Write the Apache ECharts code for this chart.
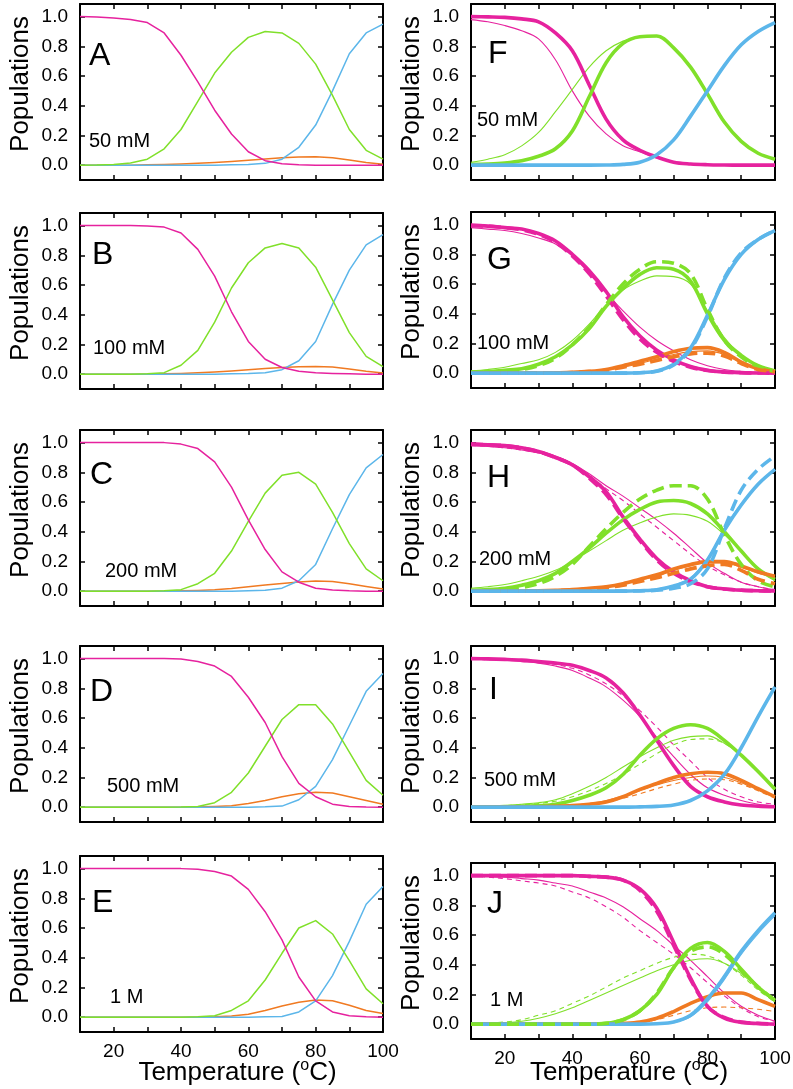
<!DOCTYPE html>
<html><head><meta charset="utf-8">
<script src="https://cdn.jsdelivr.net/npm/echarts@6/dist/echarts.min.js"></script>
<style>html,body{margin:0;padding:0;background:#fff}#c{width:793px;height:1089px}</style>
</head><body><div id="c"></div>
<script>
// ---------- data ----------
const T = [10,15,20,25,30,35,40,45,50,55,60,65,70,75,80,85,90,95,100];
const X_TICK_LABELS = [20,40,60,80,100];
const Y_TICK_LABELS = [0,0.2,0.4,0.6,0.8,1.0];

const A_mag = [1.0,0.998,0.99,0.98,0.96,0.89,0.74,0.56,0.37,0.21,0.09,0.03,0.01,0.003,0,0,0,0,0];
const A_grn = [0,0.001,0.005,0.015,0.04,0.11,0.24,0.43,0.62,0.76,0.86,0.90,0.89,0.82,0.68,0.47,0.24,0.10,0.04];
const A_org = [0,0,0,0,0.002,0.004,0.007,0.012,0.018,0.025,0.033,0.042,0.05,0.055,0.056,0.05,0.035,0.018,0.006];
const A_blu = [0,0,0,0,0,0,0,0,0,0.002,0.005,0.012,0.04,0.12,0.27,0.50,0.75,0.89,0.95];

const B_mag = [1,1,1,1,0.998,0.99,0.95,0.84,0.66,0.42,0.22,0.10,0.045,0.02,0.01,0.005,0.002,0,0];
const B_grn = [0,0,0,0,0.002,0.01,0.06,0.16,0.35,0.58,0.75,0.85,0.88,0.85,0.72,0.50,0.28,0.12,0.05];
const B_org = [0,0,0,0,0,0.002,0.005,0.009,0.015,0.022,0.03,0.038,0.045,0.05,0.052,0.048,0.035,0.02,0.008];
const B_blu = [0,0,0,0,0,0,0,0,0,0.002,0.004,0.01,0.03,0.09,0.22,0.47,0.70,0.87,0.94];

const C_mag = [1,1,1,1,1,1,0.99,0.96,0.87,0.70,0.48,0.28,0.13,0.06,0.02,0.007,0.002,0,0];
const C_grn = [0,0,0,0,0,0.002,0.01,0.05,0.12,0.27,0.47,0.66,0.78,0.80,0.72,0.53,0.32,0.15,0.07];
const C_org = [0,0,0,0,0,0,0.002,0.005,0.01,0.018,0.03,0.042,0.052,0.062,0.068,0.065,0.05,0.032,0.015];
const C_blu = [0,0,0,0,0,0,0,0,0,0,0.002,0.006,0.02,0.07,0.18,0.42,0.65,0.83,0.92];

const D_mag = [1,1,1,1,1,1,0.998,0.98,0.95,0.88,0.74,0.57,0.34,0.16,0.07,0.02,0.005,0.001,0];
const D_grn = [0,0,0,0,0,0,0.001,0.005,0.03,0.10,0.23,0.41,0.59,0.69,0.69,0.56,0.37,0.18,0.08];
const D_org = [0,0,0,0,0,0,0,0.002,0.005,0.01,0.025,0.045,0.07,0.09,0.10,0.095,0.07,0.045,0.02];
const D_blu = [0,0,0,0,0,0,0,0,0,0,0,0.002,0.007,0.05,0.14,0.32,0.55,0.78,0.90];

const E_mag = [1,1,1,1,1,1,1,0.995,0.98,0.95,0.86,0.71,0.52,0.27,0.11,0.035,0.01,0.002,0];
const E_grn = [0,0,0,0,0,0,0,0.002,0.01,0.045,0.11,0.25,0.43,0.60,0.65,0.56,0.38,0.19,0.09];
const E_org = [0,0,0,0,0,0,0,0,0.002,0.008,0.02,0.045,0.075,0.10,0.115,0.11,0.08,0.045,0.025];
const E_blu = [0,0,0,0,0,0,0,0,0,0,0,0.002,0.005,0.035,0.11,0.28,0.51,0.76,0.88];

const F_mag = [1.0,0.998,0.995,0.985,0.965,0.89,0.77,0.54,0.31,0.17,0.10,0.055,0.02,0.008,0.003,0.001,0,0,0];
const F_magThin = [0.98,0.965,0.94,0.905,0.85,0.71,0.50,0.33,0.21,0.13,0.09,0.05,0.02,0.008,0.003,0.001,0,0,0];
const F_grn = [0.005,0.008,0.015,0.03,0.06,0.11,0.23,0.46,0.69,0.82,0.865,0.87,0.79,0.66,0.48,0.29,0.16,0.08,0.04];
const F_grnThin = [0.02,0.04,0.07,0.13,0.22,0.36,0.51,0.66,0.77,0.835,0.865,0.87,0.79,0.66,0.48,0.29,0.16,0.08,0.04];
const F_blu = [0,0,0,0,0,0,0,0,0.001,0.005,0.02,0.07,0.17,0.33,0.50,0.67,0.81,0.90,0.96];

const G_mag = [0.995,0.99,0.98,0.97,0.94,0.89,0.80,0.69,0.55,0.38,0.25,0.155,0.09,0.045,0.02,0.008,0.003,0.001,0];
const G_magDash = [0.995,0.99,0.98,0.965,0.935,0.88,0.79,0.67,0.52,0.36,0.23,0.14,0.08,0.04,0.018,0.007,0.003,0.001,0];
const G_magThin = [0.98,0.97,0.96,0.94,0.91,0.87,0.79,0.67,0.54,0.42,0.31,0.22,0.15,0.09,0.05,0.025,0.012,0.005,0.002];
const G_grn = [0.005,0.01,0.02,0.03,0.06,0.11,0.19,0.30,0.45,0.57,0.665,0.71,0.70,0.62,0.40,0.22,0.12,0.05,0.015];
const G_grnDash = [0.004,0.008,0.015,0.025,0.05,0.1,0.19,0.31,0.46,0.60,0.70,0.75,0.74,0.67,0.43,0.22,0.11,0.045,0.012];
const G_grnThin = [0.015,0.025,0.04,0.065,0.09,0.14,0.22,0.33,0.46,0.56,0.62,0.655,0.65,0.60,0.42,0.24,0.12,0.05,0.015];
const G_org = [0,0,0,0,0,0.002,0.005,0.012,0.025,0.05,0.08,0.11,0.145,0.168,0.172,0.14,0.075,0.03,0.01];
const G_orgDash = [0,0,0,0,0,0.001,0.004,0.01,0.02,0.04,0.06,0.085,0.11,0.13,0.135,0.115,0.065,0.025,0.01];
const G_orgThin = [0,0,0,0,0,0.002,0.005,0.01,0.02,0.04,0.065,0.095,0.125,0.145,0.15,0.125,0.07,0.03,0.01];
const G_blu = [0,0,0,0,0,0,0,0,0,0,0.003,0.015,0.06,0.17,0.39,0.63,0.80,0.90,0.96];
const G_bluDash = [0,0,0,0,0,0,0,0,0,0,0.003,0.013,0.055,0.16,0.38,0.64,0.81,0.90,0.96];

const H_mag = [0.99,0.985,0.98,0.965,0.94,0.90,0.85,0.77,0.67,0.50,0.35,0.22,0.13,0.07,0.03,0.015,0.007,0.003,0.001];
const H_magDash = [0.99,0.985,0.98,0.965,0.94,0.90,0.85,0.76,0.65,0.49,0.34,0.21,0.12,0.065,0.03,0.014,0.006,0.003,0.001];
const H_magThin = [0.98,0.975,0.965,0.95,0.93,0.91,0.86,0.79,0.71,0.64,0.56,0.48,0.39,0.29,0.19,0.12,0.06,0.03,0.01];
const H_magThinDash = [0.98,0.975,0.965,0.95,0.93,0.905,0.855,0.78,0.69,0.61,0.52,0.43,0.34,0.25,0.17,0.11,0.06,0.03,0.01];
const H_grn = [0.005,0.01,0.02,0.04,0.07,0.12,0.2,0.29,0.39,0.48,0.55,0.6,0.61,0.59,0.52,0.40,0.27,0.15,0.08];
const H_grnDash = [0.003,0.006,0.01,0.025,0.05,0.1,0.18,0.3,0.42,0.53,0.62,0.68,0.71,0.71,0.62,0.38,0.18,0.07,0.03];
const H_grnThin = [0.02,0.03,0.045,0.07,0.1,0.14,0.2,0.27,0.34,0.41,0.46,0.5,0.52,0.51,0.47,0.38,0.27,0.15,0.07];
const H_org = [0,0,0,0,0.002,0.005,0.01,0.02,0.03,0.05,0.08,0.11,0.15,0.18,0.2,0.2,0.17,0.13,0.10];
const H_orgDash = [0,0,0,0,0.001,0.003,0.007,0.014,0.025,0.04,0.065,0.09,0.12,0.15,0.17,0.18,0.14,0.08,0.05];
const H_orgThin = [0,0,0,0,0.002,0.005,0.01,0.018,0.03,0.05,0.075,0.1,0.14,0.17,0.19,0.19,0.16,0.12,0.09];
const H_blu = [0,0,0,0,0,0,0,0,0,0,0.003,0.01,0.035,0.08,0.21,0.41,0.58,0.72,0.82];
const H_bluDash = [0,0,0,0,0,0,0,0,0,0,0.002,0.006,0.02,0.05,0.15,0.42,0.68,0.82,0.91];
const H_bluThin = [0,0,0,0,0,0,0,0,0,0.001,0.005,0.015,0.04,0.09,0.22,0.42,0.59,0.72,0.82];

const I_mag = [1.0,0.998,0.995,0.99,0.98,0.97,0.955,0.92,0.87,0.77,0.62,0.45,0.28,0.14,0.07,0.035,0.015,0.007,0.003];
const I_magThin = [0.995,0.993,0.99,0.98,0.97,0.95,0.92,0.87,0.81,0.72,0.61,0.47,0.34,0.22,0.13,0.08,0.045,0.02,0.01];
const I_magThinDash = [0.995,0.993,0.99,0.985,0.975,0.96,0.935,0.89,0.83,0.75,0.65,0.54,0.42,0.31,0.2,0.12,0.07,0.035,0.02];
const I_grn = [0,0.001,0.002,0.005,0.01,0.02,0.045,0.08,0.13,0.22,0.35,0.46,0.53,0.555,0.53,0.45,0.35,0.24,0.12];
const I_grnThin = [0.005,0.008,0.012,0.02,0.03,0.05,0.09,0.14,0.2,0.27,0.34,0.40,0.45,0.475,0.48,0.43,0.35,0.24,0.12];
const I_grnThinDash = [0.004,0.006,0.01,0.016,0.025,0.04,0.07,0.11,0.16,0.22,0.29,0.36,0.42,0.455,0.46,0.43,0.35,0.24,0.12];
const I_org = [0,0,0,0,0.002,0.005,0.01,0.02,0.035,0.07,0.12,0.16,0.2,0.225,0.235,0.225,0.18,0.125,0.07];
const I_orgThin = [0,0,0,0.002,0.004,0.008,0.015,0.025,0.045,0.075,0.11,0.15,0.18,0.2,0.21,0.2,0.165,0.115,0.065];
const I_orgThinDash = [0,0,0,0.001,0.003,0.006,0.012,0.02,0.035,0.06,0.09,0.125,0.155,0.18,0.19,0.185,0.155,0.11,0.06];
const I_blu = [0,0,0,0,0,0,0,0,0,0,0.002,0.005,0.015,0.045,0.11,0.22,0.40,0.61,0.81];

const J_mag = [1,1,1,1,1,1,1,0.995,0.99,0.97,0.91,0.78,0.55,0.31,0.12,0.04,0.012,0.004,0];
const J_magDash = [1,1,1,1,1,1,1,0.995,0.99,0.97,0.90,0.76,0.53,0.30,0.12,0.045,0.015,0.005,0];
const J_magThin = [1.0,0.995,0.99,0.98,0.97,0.95,0.93,0.89,0.85,0.79,0.71,0.63,0.53,0.43,0.32,0.21,0.12,0.06,0.02];
const J_magThinDash = [1.0,0.99,0.98,0.965,0.95,0.93,0.89,0.85,0.79,0.72,0.63,0.55,0.47,0.38,0.28,0.19,0.11,0.05,0.02];
const J_grn = [0,0,0,0,0,0,0,0,0.005,0.03,0.09,0.2,0.38,0.51,0.55,0.49,0.37,0.25,0.16];
const J_grnDash = [0,0,0,0,0,0,0,0,0.005,0.03,0.09,0.21,0.38,0.49,0.52,0.47,0.36,0.25,0.16];
const J_grnThin = [0.002,0.005,0.01,0.02,0.04,0.07,0.11,0.16,0.21,0.26,0.31,0.36,0.40,0.43,0.44,0.41,0.34,0.24,0.15];
const J_grnThinDash = [0.003,0.008,0.015,0.03,0.06,0.09,0.14,0.19,0.25,0.31,0.36,0.41,0.45,0.47,0.46,0.41,0.33,0.23,0.15];
const J_org = [0,0,0,0,0,0,0,0,0,0.005,0.015,0.04,0.085,0.14,0.185,0.21,0.21,0.165,0.12];
const J_orgThinDash = [0,0,0,0,0,0,0,0,0,0.003,0.01,0.03,0.06,0.09,0.11,0.115,0.11,0.1,0.085];
const J_blu = [0,0,0,0,0,0,0,0,0,0,0,0.003,0.015,0.06,0.17,0.32,0.49,0.63,0.75];
const J_bluThin = [0,0,0,0,0,0,0,0,0,0,0,0.002,0.012,0.05,0.15,0.30,0.47,0.61,0.73];

const PANEL_LETTERS = ['A','B','C','D','E','F','G','H','I','J'];
const PANEL_CONC = ['50 mM','100 mM','200 mM','500 mM','1 M','50 mM','100 mM','200 mM','500 mM','1 M'];

// ---------- styling / layout ----------
const FONT = '"Liberation Sans", Arial, sans-serif';
const COLORS = {mag:'#e6229e', grn:'#80e02a', blu:'#5cb6ea', org:'#f07a22'};
const STYLES = {
  L:  {width:1.5, type:'solid', smooth:false},
  K:  {width:3.6, type:'solid', smooth:true},
  KD: {width:3.6, type:[12,6], smooth:true},
  N:  {width:1.1, type:'solid', smooth:true},
  ND: {width:1.1, type:[5,4], smooth:true}
};
const COLX = [{left:80, width:303}, {left:471, width:304}];
const ROWTOP = [[4,213,430,646,856],[4,212,430,646,863]];
const GH = 176;
const LETTER_POS = [[89,56],[92,255],[90,475],[90,692],[92,903],[488,54],[487,260],[487,478],[489,690],[487,904]];
const CONC_POS = [[89,141],[93,348],[105,571],[107,786],[110,997],[477,120],[477,343],[479,559],[484,780],[490,1000]];

const panelLines = [
  [[A_org,'org','L'],[A_blu,'blu','L'],[A_grn,'grn','L'],[A_mag,'mag','L']],
  [[B_org,'org','L'],[B_blu,'blu','L'],[B_grn,'grn','L'],[B_mag,'mag','L']],
  [[C_org,'org','L'],[C_blu,'blu','L'],[C_grn,'grn','L'],[C_mag,'mag','L']],
  [[D_org,'org','L'],[D_blu,'blu','L'],[D_grn,'grn','L'],[D_mag,'mag','L']],
  [[E_org,'org','L'],[E_blu,'blu','L'],[E_grn,'grn','L'],[E_mag,'mag','L']],
  [[F_magThin,'mag','N'],[F_grnThin,'grn','N'],[F_mag,'mag','K'],[F_grn,'grn','K'],[F_blu,'blu','K']],
  [[G_magThin,'mag','N'],[G_grnThin,'grn','N'],[G_orgThin,'org','N'],
   [G_mag,'mag','K'],[G_grn,'grn','K'],[G_org,'org','K'],[G_blu,'blu','K'],
   [G_magDash,'mag','KD'],[G_grnDash,'grn','KD'],[G_orgDash,'org','KD'],[G_bluDash,'blu','KD']],
  [[H_magThin,'mag','N'],[H_magThinDash,'mag','ND'],[H_grnThin,'grn','N'],[H_orgThin,'org','N'],[H_bluThin,'blu','N'],
   [H_mag,'mag','K'],[H_grn,'grn','K'],[H_org,'org','K'],[H_blu,'blu','K'],
   [H_magDash,'mag','KD'],[H_grnDash,'grn','KD'],[H_orgDash,'org','KD'],[H_bluDash,'blu','KD']],
  [[I_magThin,'mag','N'],[I_magThinDash,'mag','ND'],[I_grnThin,'grn','N'],[I_grnThinDash,'grn','ND'],
   [I_orgThin,'org','N'],[I_orgThinDash,'org','ND'],
   [I_mag,'mag','K'],[I_grn,'grn','K'],[I_org,'org','K'],[I_blu,'blu','K']],
  [[J_magThin,'mag','N'],[J_magThinDash,'mag','ND'],[J_grnThin,'grn','N'],[J_grnThinDash,'grn','ND'],
   [J_orgThinDash,'org','ND'],[J_bluThin,'blu','N'],
   [J_mag,'mag','K'],[J_grn,'grn','K'],[J_org,'org','K'],[J_blu,'blu','K'],
   [J_magDash,'mag','KD'],[J_grnDash,'grn','KD']]
];

// ---------- build option ----------
const grids = [], xAxes = [], yAxes = [], series = [], graphics = [];
const axisLine = {show:true, onZero:false, lineStyle:{color:'#000', width:2}};
const tickStyle = {color:'#000', width:1.5};

for (let p = 0; p < 10; p++) {
  const col = p < 5 ? 0 : 1, row = p % 5;
  const top = ROWTOP[col][row];
  grids.push({left:COLX[col].left, top:top, width:COLX[col].width, height:GH, outerBoundsMode:'none', containLabel:false});
  const bottomRow = row === 4;
  xAxes.push({type:'value', gridIndex:p, position:'bottom', min:10, max:100, interval:10,
    axisLine, splitLine:{show:false},
    axisTick:{show:true, inside:true, length:5, lineStyle:tickStyle},
    axisLabel:{show:bottomRow, margin:10, fontSize:19, fontFamily:FONT, color:'#000',
      formatter: v => X_TICK_LABELS.includes(v) ? String(v) : ''}});
  xAxes.push({type:'value', gridIndex:p, position:'top', min:10, max:100, interval:10,
    axisLine, splitLine:{show:false},
    axisTick:{show:true, inside:true, length:5, lineStyle:tickStyle}, axisLabel:{show:false}});
  yAxes.push({type:'value', gridIndex:p, position:'left', min:-0.1, max:1.085,
    axisLine, splitLine:{show:false},
    axisTick:{show:true, inside:true, length:5, lineStyle:tickStyle, customValues:Y_TICK_LABELS},
    axisLabel:{show:true, margin:12, fontSize:19, fontFamily:FONT, color:'#000', customValues:Y_TICK_LABELS,
      formatter: v => v.toFixed(1)}});
  yAxes.push({type:'value', gridIndex:p, position:'right', min:-0.1, max:1.085,
    axisLine, splitLine:{show:false},
    axisTick:{show:true, inside:true, length:5, lineStyle:tickStyle, customValues:Y_TICK_LABELS},
    axisLabel:{show:false}});

  panelLines[p].forEach((ln, k) => {
    const [vals, c, s] = ln;
    const st = STYLES[s];
    series.push({type:'line', xAxisIndex:2*p, yAxisIndex:2*p,
      data: T.map((t, i) => [t, vals[i]]),
      showSymbol:false, symbol:'none', smooth:st.smooth ? 0.35 : false,
      clip:true, silent:true, animation:false, z:2 + k,
      lineStyle:{color:COLORS[c], width:st.width, type:st.type, cap:'butt', join:'round'}});
  });

  graphics.push({type:'text', x:LETTER_POS[p][0], y:LETTER_POS[p][1], z:100,
    style:{text:PANEL_LETTERS[p], fontSize:32, fontFamily:FONT, fill:'#000',
      textAlign:'left', textVerticalAlign:'middle', align:'left', verticalAlign:'middle'}});
  graphics.push({type:'text', x:CONC_POS[p][0], y:CONC_POS[p][1], z:100,
    style:{text:PANEL_CONC[p], fontSize:20, fontFamily:FONT, fill:'#000',
      textAlign:'left', textVerticalAlign:'middle', align:'left', verticalAlign:'middle'}});
  graphics.push({type:'text', x: col === 0 ? 21 : 412, y: top + GH/2 - 8, rotation: Math.PI/2, z:100,
    style:{text:'Populations', fontSize:26, fontFamily:FONT, fill:'#000',
      textAlign:'center', textVerticalAlign:'middle', align:'center', verticalAlign:'middle'}});
  if (bottomRow) {
    graphics.push({type:'text', x: COLX[col].left + COLX[col].width/2 + 6, y: 1073, z:100,
      style:{text:'Temperature ({s|o}C)', fontSize:26, fontFamily:FONT, fill:'#000',
        textAlign:'center', textVerticalAlign:'middle', align:'center', verticalAlign:'middle',
        rich:{s:{fontSize:16, fontFamily:FONT, fill:'#000', verticalAlign:'top', lineHeight:30}}}});
  }
}

const chart = echarts.init(document.getElementById('c'), null, {renderer:'canvas'});
chart.setOption({
  animation:false,
  backgroundColor:'#fff',
  grid:grids, xAxis:xAxes, yAxis:yAxes, series:series, graphic:graphics
});
</script>
</body></html>
